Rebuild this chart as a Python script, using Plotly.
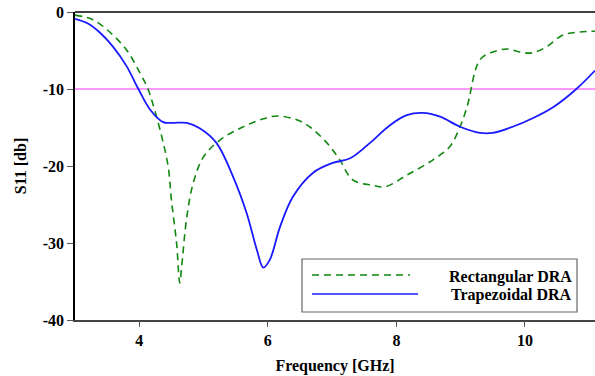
import plotly.graph_objects as go

# Trapezoidal DRA (blue, solid)
trap_freq = [3.0, 3.2, 3.39, 3.59, 3.8, 3.98, 4.17, 4.37, 4.5, 4.74, 4.94, 5.2, 5.46, 5.67,
             5.83, 5.93, 6.03, 6.19, 6.39, 6.7, 7.01, 7.28, 7.59, 7.9, 8.16, 8.41, 8.68,
             8.99, 9.3, 9.5, 9.81, 10.12, 10.45, 10.8, 11.09]
trap_s11 = [-0.9, -1.5, -2.7, -4.5, -7.0, -9.9, -12.7, -14.3, -14.4, -14.4, -15.1, -17.0, -21.4, -26.1,
            -30.9, -33.2, -32.2, -27.9, -24.0, -20.9, -19.6, -19.0, -17.0, -14.7, -13.4, -13.1, -13.6,
            -14.9, -15.7, -15.7, -14.9, -13.8, -12.3, -10.0, -7.6]

# Rectangular DRA (green, dashed)
rect_freq = [3.0, 3.28, 3.54, 3.8, 4.01, 4.13, 4.21, 4.35, 4.45, 4.5, 4.58, 4.63, 4.66, 4.74,
             4.84, 5.0, 5.26, 5.57, 5.88, 6.14, 6.45, 6.65, 6.92, 7.12, 7.32, 7.63, 7.82,
             8.16, 8.57, 8.83, 8.99, 9.1, 9.3, 9.5, 9.72, 9.92, 10.12, 10.34, 10.59, 10.85, 11.09]
rect_s11 = [-0.4, -1.0, -2.6, -4.9, -7.9, -9.9, -11.9, -16.2, -20.1, -24.4, -30.0, -35.2, -33.0, -26.6,
            -22.2, -18.8, -16.6, -15.1, -14.0, -13.5, -14.0, -14.9, -17.0, -19.2, -21.8, -22.5, -22.7,
            -21.2, -19.2, -17.5, -14.9, -12.3, -6.2, -5.2, -4.8, -5.2, -5.3, -4.5, -3.0, -2.6, -2.5]

ref_level = -10
x_ticks = [4, 6, 8, 10]
y_ticks = [0, -10, -20, -30, -40]
legend_names = ["Rectangular DRA", "Trapezoidal DRA"]

FONT = "Liberation Serif"
FS = 16

fig = go.Figure()
fig.add_trace(go.Scatter(x=[3, 11.2], y=[ref_level, ref_level], mode="lines",
                         line=dict(color="#ff33ff", width=1.2), showlegend=False, hoverinfo="skip"))
fig.add_trace(go.Scatter(x=rect_freq, y=rect_s11, mode="lines", name=legend_names[0],
                         line=dict(color="#118811", width=1.6, dash="7px,5px", shape="spline", smoothing=1.0),
                         showlegend=False))
fig.add_trace(go.Scatter(x=trap_freq, y=trap_s11, mode="lines", name=legend_names[1],
                         line=dict(color="#1a1aff", width=1.8, shape="spline", smoothing=1.0),
                         showlegend=False))

W, H = 595, 376
L, R, T, B = 75, 0, 12, 56
pw, ph = W - L - R, H - T - B

def px(xp):
    return (xp - L) / pw

def py(yp):
    return 1 - (yp - T) / ph

shapes = [
    dict(type="line", xref="paper", yref="paper", x0=0, x1=1, y0=1, y1=1,
         line=dict(color="black", width=1.6)),
    dict(type="rect", xref="paper", yref="paper", x0=px(302), x1=px(577), y0=py(312), y1=py(259),
         line=dict(color="#666666", width=1.2), fillcolor="white", layer="above"),
    dict(type="line", xref="paper", yref="paper", x0=px(312), x1=px(410), y0=py(275), y1=py(275),
         line=dict(color="#118811", width=1.6, dash="7px,5px"), layer="above"),
    dict(type="line", xref="paper", yref="paper", x0=px(312), x1=px(418), y0=py(294), y1=py(294),
         line=dict(color="#1a1aff", width=1.6), layer="above"),
]
annotations = [
    dict(xref="paper", yref="paper", x=px(574), y=py(277), text="<b>%s</b>" % legend_names[0],
         showarrow=False, xanchor="right", yanchor="middle",
         font=dict(family=FONT, size=FS, color="black")),
    dict(xref="paper", yref="paper", x=px(574), y=py(295), text="<b>%s</b>" % legend_names[1],
         showarrow=False, xanchor="right", yanchor="middle",
         font=dict(family=FONT, size=FS, color="black")),
]

fig.update_layout(
    width=W, height=H,
    margin=dict(l=L, r=R, t=T, b=B, autoexpand=False),
    paper_bgcolor="white", plot_bgcolor="white",
    font=dict(family=FONT, size=FS, color="black"),
    shapes=shapes, annotations=annotations,
    showlegend=False,
)
fig.update_xaxes(
    range=[3, 11.09], tickvals=x_ticks, ticktext=["<b>%d</b>" % v for v in x_ticks],
    showgrid=False, zeroline=False, showline=True, linecolor="#444444", linewidth=1.6,
    ticks="outside", ticklen=5, tickcolor="#555555", tickwidth=1, automargin=False,
    title=dict(text="<b>Frequency [GHz]</b>", font=dict(family=FONT, size=FS), standoff=12),
    tickfont=dict(family=FONT, size=FS),
)
fig.update_yaxes(
    range=[-40, 0], tickvals=y_ticks, ticktext=["<b>%d</b>" % v for v in y_ticks],
    showgrid=False, zeroline=False, showline=True, linecolor="black", linewidth=1.6,
    ticks="outside", ticklen=6, tickcolor="#555555", tickwidth=1, automargin=False,
    title=dict(text="<b>S11 [db]</b>", font=dict(family=FONT, size=FS), standoff=12),
    tickfont=dict(family=FONT, size=FS),
)

fig.write_html("out.html",
               config={"displayModeBar": False},
               post_script="document.body.style.margin='0';document.body.style.padding='0';"
                           "document.body.style.overflow='hidden';")
